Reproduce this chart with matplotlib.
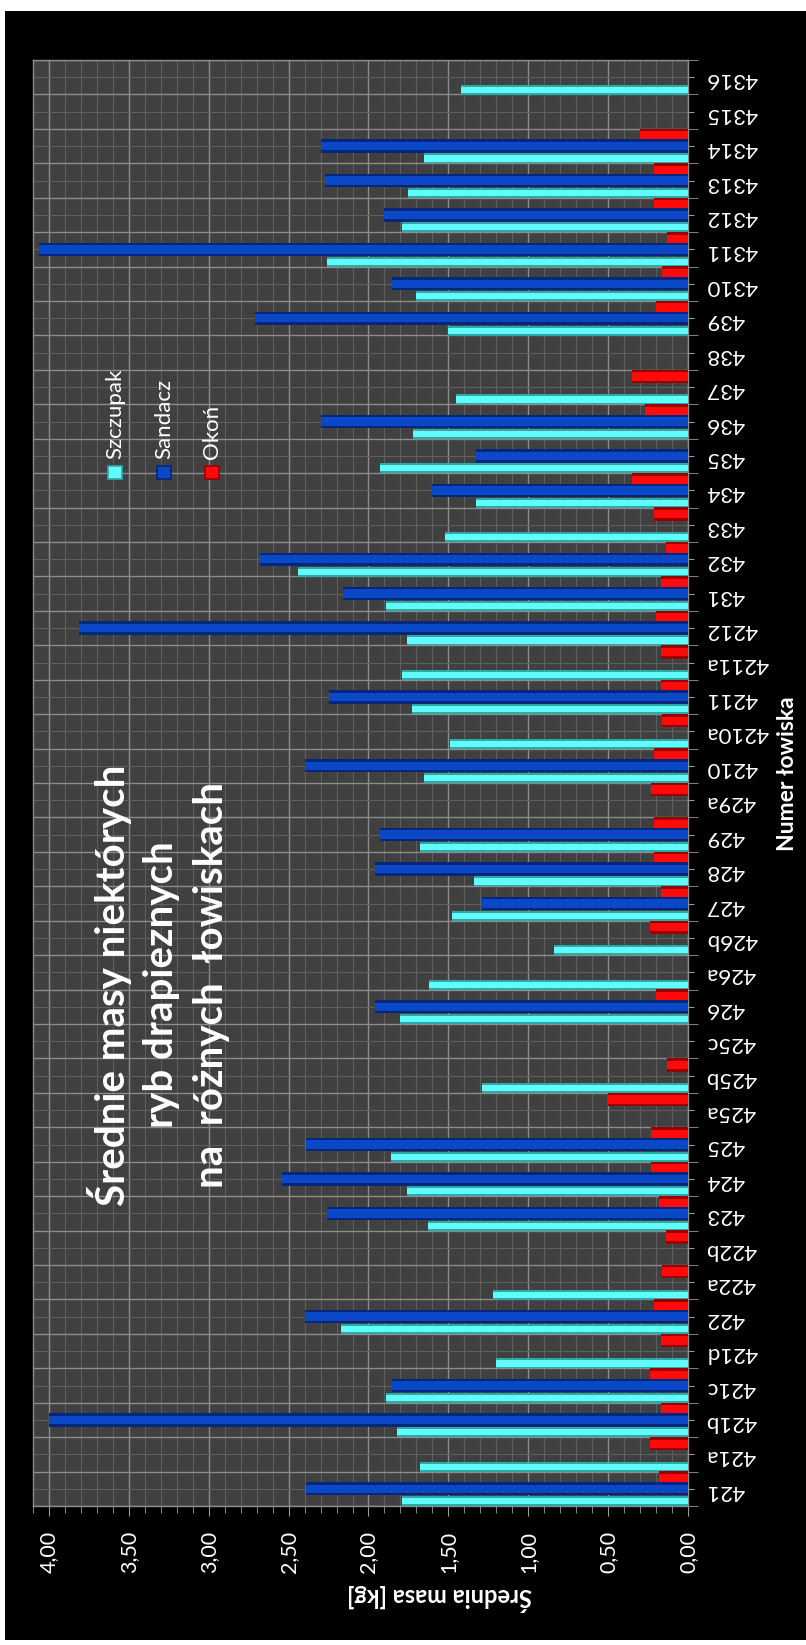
import numpy as np
import matplotlib
matplotlib.use("Agg")
import matplotlib.pyplot as plt
from matplotlib.patches import Rectangle
from matplotlib.ticker import MultipleLocator, FuncFormatter

plt.rcParams['font.family'] = ['Lato', 'DejaVu Sans']

nan = np.nan

# fishing grounds, from the bottom of the picture to the top
categories = ['421', '421a', '421b', '421c', '421d', '422', '422a', '422b', '423', '424',
              '425', '425a', '425b', '425c', '426', '426a', '426b', '427', '428', '429',
              '429a', '4210', '4210a', '4211', '4211a', '4212', '431', '432', '433', '434',
              '435', '436', '437', '438', '439', '4310', '4311', '4312', '4313', '4314',
              '4315', '4316']

szczupak = [1.79, 1.68, 1.82, 1.89, 1.20, 2.17, 1.22, nan, 1.63, 1.76,
            1.86, nan, 1.29, nan, 1.80, 1.62, 0.84, 1.48, 1.34, 1.68,
            nan, 1.65, 1.49, 1.73, 1.79, 1.76, 1.89, 2.44, 1.52, 1.33,
            1.93, 1.72, 1.45, nan, 1.50, 1.70, 2.26, 1.79, 1.75, 1.65,
            nan, 1.42]

sandacz = [2.39, nan, 4.00, 1.85, nan, 2.40, nan, nan, 2.26, 2.54,
           2.39, nan, nan, nan, 1.96, nan, nan, 1.29, 1.96, 1.93,
           nan, 2.40, nan, 2.25, nan, 3.81, 2.16, 2.68, nan, 1.60,
           1.33, 2.30, nan, nan, 2.71, 1.85, 4.06, 1.90, 2.27, 2.30,
           nan, nan]

okon = [0.18, 0.24, 0.17, 0.24, 0.17, 0.21, 0.16, 0.14, 0.18, 0.23,
        0.23, 0.50, 0.13, nan, 0.20, nan, 0.24, 0.17, 0.21, 0.21,
        0.23, 0.21, 0.16, 0.17, 0.17, 0.20, 0.17, 0.14, 0.21, 0.35,
        nan, 0.27, 0.35, nan, 0.20, 0.16, 0.13, 0.21, 0.21, 0.30,
        nan, nan]

series_names = ['Szczupak', 'Sandacz', 'Okoń']
series_data = [szczupak, sandacz, okon]
face_colors = ['#62fbfb', '#0a48c8', '#ff0a0a']
edge_colors = ['#2fa8a8', '#05267a', '#9a0000']
offsets = [-0.36, 0.0, 0.31]
heights = [0.29, 0.39, 0.39]

W, H = 806, 1645


def fx(x):
    return x / W


def fy(y):
    return 1 - y / H


fig = plt.figure(figsize=(W / 100, H / 100), dpi=100)
fig.patch.set_facecolor('white')
fig.patches.append(Rectangle((fx(5), fy(1640)), 1 - fx(5), fy(11) - fy(1640),
                             transform=fig.transFigure, facecolor='black',
                             edgecolor='none', zorder=-10))

ax = fig.add_axes([fx(33), fy(1506), fx(688) - fx(33), fy(60) - fy(1506)])
ax.set_facecolor('#404040')

y = np.arange(len(categories))
for vals, off, h, fc, ec, z in zip(series_data, offsets, heights,
                                   face_colors, edge_colors, [3, 5, 4]):
    vals = np.array(vals, dtype=float)
    ax.barh(y + off, vals, height=h, color=ec, edgecolor='none', zorder=z)
    ax.barh(y + off, vals, height=h * 0.62, color=fc, edgecolor='none', zorder=z)

ax.set_xlim(4.1, 0)
ax.set_ylim(-0.5, len(categories) - 0.5)

ax.xaxis.set_major_locator(MultipleLocator(0.5))
ax.xaxis.set_minor_locator(MultipleLocator(0.1))
ax.xaxis.set_major_formatter(FuncFormatter(lambda v, p: f"{v:.2f}".replace('.', ',')))

ax.yaxis.tick_right()
ax.set_yticks(y)
ax.set_yticklabels(categories)
ax.set_yticks(np.arange(len(categories) + 1) - 0.5, minor=True)

ax.grid(which='major', axis='x', color='#8c8c8c', linewidth=1.0, zorder=0)
ax.grid(which='minor', axis='x', color='#5e5e5e', linewidth=0.8, zorder=0)
ax.grid(which='minor', axis='y', color='#8c8c8c', linewidth=1.0, zorder=0)
ax.grid(which='major', axis='y', color='#5e5e5e', linewidth=0.8, zorder=0)
ax.set_axisbelow(True)

for s in ax.spines.values():
    s.set_color('#8c8c8c')
    s.set_linewidth(1.0)

ax.tick_params(axis='x', which='major', length=7, color='#9a9a9a', colors='white',
               labelsize=15.5, labelrotation=90, pad=11)
ax.tick_params(axis='x', which='minor', length=5, color='#9a9a9a')
ax.tick_params(axis='y', which='major', length=4, color='#9a9a9a', colors='white',
               labelsize=16, labelrotation=180, pad=9)
ax.tick_params(axis='y', which='minor', length=7, color='#9a9a9a')
for lab in ax.get_xticklabels():
    lab.set_color('white')
for lab in ax.get_yticklabels():
    lab.set_color('white')

# axis titles
fig.text(fx(440), fy(1598), 'Średnia masa [kg]', rotation=180, ha='center', va='center',
         color='white', fontsize=17, fontweight='bold')
fig.text(fx(787), fy(774), 'Numer łowiska', rotation=90, ha='center', va='center',
         color='white', fontsize=16.5, fontweight='bold')

# chart title
fig.text(fx(158), fy(985), 'Średnie masy niektórych\nryb drapieznych\nna  różnych  łowiskach',
         rotation=90, ha='center', va='center', multialignment='center',
         color='white', fontsize=29, fontweight='bold', linespacing=1.4)

# legend, drawn by hand because it is turned on its side
legend_x = [115, 164, 212]
for name, fc, ec, lx in zip(series_names, face_colors, edge_colors, legend_x):
    fig.patches.append(Rectangle((fx(lx - 7), fy(479)), 14 / W, 13 / H,
                                 transform=fig.transFigure, facecolor=fc,
                                 edgecolor=ec, linewidth=1.2, zorder=10))
    fig.text(fx(lx), fy(459), name, rotation=90, ha='center', va='bottom',
             color='white', fontsize=16, zorder=10)

fig.savefig('out.png', dpi=100, facecolor=fig.get_facecolor())
